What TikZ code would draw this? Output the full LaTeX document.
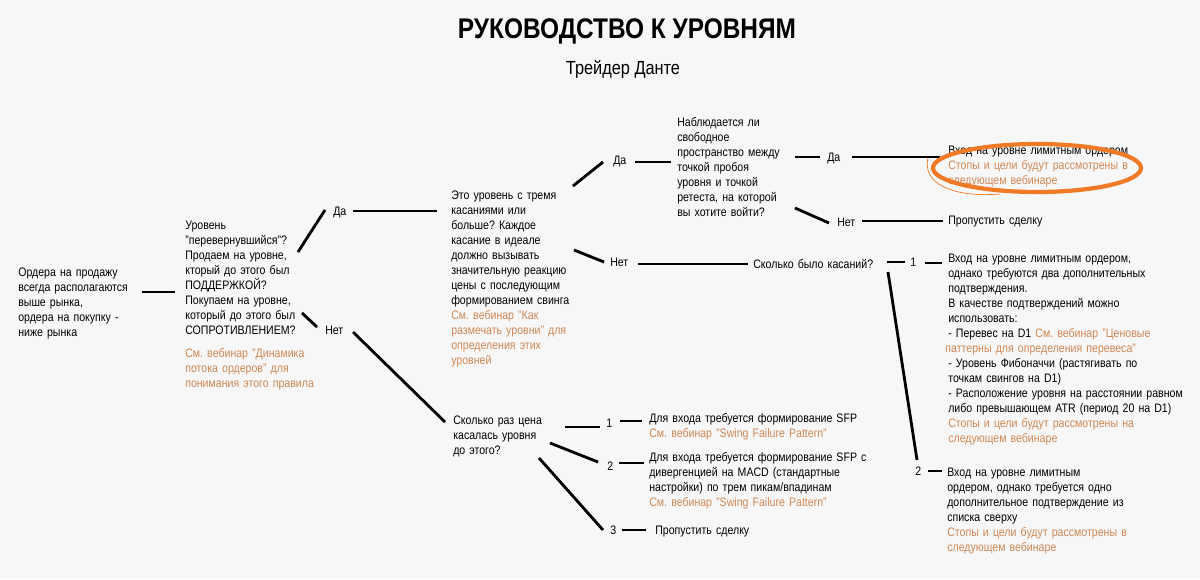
\documentclass[tikz,border=0pt]{standalone}
\usepackage{fontspec}
\setmainfont{Liberation Sans}[FakeStretch=0.86]
\usetikzlibrary{calc}
\definecolor{PaperGrey}{RGB}{247,247,247}
\definecolor{NoteOrange}{RGB}{208,136,84}
\definecolor{MarkOrange}{RGB}{240,122,38}
\newcommand{\webnote}[1]{\textcolor{NoteOrange}{#1}}
\frenchspacing

\begin{document}
\begin{tikzpicture}[
    x=0.025cm, y=-0.025cm,
    font=\fontsize{8.75}{10.67}\selectfont,
    txt/.style={anchor=base west, align=left, inner sep=0pt, text width=6.5cm},
    lbl/.style={anchor=base west, inner sep=0pt},
    link/.style={line width=2pt},
]
\path[use as bounding box, fill=PaperGrey] (0,0) rectangle (1200,579);

% ---- title ----
\node[anchor=base, font=\fontsize{20.2}{24}\selectfont\bfseries] (title) at (627,38) {РУКОВОДСТВО К УРОВНЯМ};
\node[anchor=base, font=\fontsize{13.5}{16}\selectfont] (author) at (623,74) {Трейдер Данте};

% ---- left: start and first question ----
\node[txt] (orders) at (18,276)
    {Ордера на продажу\\всегда располагаются\\выше рынка,\\ордера на покупку -\\ниже рынка};
\node[txt] (flip) at (185,229)
    {Уровень\\"перевернувшийся"?\\Продаем на уровне,\\кторый до этого был\\ПОДДЕРЖКОЙ?\\Покупаем на уровне,\\который до этого был\\СОПРОТИВЛЕНИЕМ?\\[6pt]\webnote{См. вебинар "Динамика}\\\webnote{потока ордеров" для}\\\webnote{понимания этого правила}};
\node[lbl] (yes1) at (333,215) {Да};
\node[lbl] (no1) at (325,334) {Нет};

% ---- upper branch ----
\node[txt] (three) at (451,199)
    {Это уровень с тремя\\касаниями или\\больше? Каждое\\касание в идеале\\должно вызывать\\значительную реакцию\\цены с последующим\\формированием свинга\\\webnote{См. вебинар "Как}\\\webnote{размечать уровни" для}\\\webnote{определения этих}\\\webnote{уровней}};
\node[lbl] (yes2) at (613,164) {Да};
\node[lbl] (no2) at (610,266) {Нет};
\node[txt] (space) at (677,126)
    {Наблюдается ли\\свободное\\пространство между\\точкой пробоя\\уровня и точкой\\ретеста, на которой\\вы хотите войти?};
\node[lbl] (yes3) at (827,161) {Да};
\node[lbl] (no3) at (837,226) {Нет};
\node[txt] (limit) at (948,154)
    {Вход на уровне лимитным ордером\\\webnote{Стопы и цели будут рассмотрены в}\\\webnote{следующем вебинаре}};
\node[txt] (skip1) at (948,224) {Пропустить сделку};
\node[txt] (touch) at (753,268) {Сколько было касаний?};
\node[lbl] (one1) at (910,266) {1};
\node[lbl] (two1) at (915,475) {2};
\node[txt] (twoconf) at (948,262)
    {Вход на уровне лимитным ордером,\\однако требуются два дополнительных\\подтверждения.\\В качестве подтверждений можно\\использовать:\\- Перевес на D1 \webnote{См. вебинар "Ценовые}\\\hspace*{-2pt}\webnote{паттерны для определения перевеса"}\\- Уровень Фибоначчи (растягивать по\\точкам свингов на D1)\\- Расположение уровня на расстоянии равном\\либо превышающем ATR (период 20 на D1)\\\webnote{Стопы и цели будут рассмотрены на}\\\webnote{следующем вебинаре}};
\node[txt] (oneconf) at (947,476)
    {Вход на уровне лимитным\\ордером, однако требуется одно\\дополнительное подтверждение из\\списка сверху\\\webnote{Стопы и цели будут рассмотрены в}\\\webnote{следующем вебинаре}};

% ---- lower branch ----
\node[txt] (count) at (453,424) {Сколько раз цена\\касалась уровня\\до этого?};
\node[lbl] (one2) at (606,427) {1};
\node[lbl] (two2) at (607,470) {2};
\node[lbl] (three2) at (610,534) {3};
\node[txt] (sfp1) at (649,422)
    {Для входа требуется формирование SFP\\\webnote{См. вебинар "Swing Failure Pattern"}};
\node[txt] (sfp2) at (649,461)
    {Для входа требуется формирование SFP с\\дивергенцией на MACD (стандартные\\настройки) по трем пикам/впадинам\\\webnote{См. вебинар "Swing Failure Pattern"}};
\node[txt] (skip2) at (655,534) {Пропустить сделку};

% ---- connectors ----
\foreach \a/\da/\b/\db in {
    orders/{124,16}/flip/{-10,63}, flip/{113,23}/yes1/{-8,-5}, yes1/{20,-4}/three/{-14,12},
    flip/{117,84}/no1/{-8,-7}, no1/{28,-2}/count/{-8,-2},
    three/{122,-13}/yes2/{-10,-2}, yes2/{22,-2}/space/{-6,36},
    space/{118,31}/yes3/{-7,-4}, yes3/{25,-4}/limit/{-8,3},
    space/{118,82}/no3/{-8,-3}, no3/{25,-5}/skip1/{-5,-3},
    three/{123,51}/no2/{-6,-4}, no2/{28,-2}/touch/{-5,-4},
    touch/{134,-6}/one1/{-5,-4}, one1/{15,-3}/twoconf/{-6,1},
    touch/{135,4}/two1/{2,-15}, two1/{13,-4}/oneconf/{-5,-5},
    count/{112,3}/one2/{-6,0}, one2/{14,-6}/sfp1/{-7,-1},
    count/{97,19}/two2/{-9,-8}, two2/{12,-7}/sfp2/{-5,2},
    count/{86,34}/three2/{-7,-4}, three2/{12,-4}/skip2/{-9,-4}}
    \draw[link] ([shift={(\da)}]\a.base west) -- ([shift={(\db)}]\b.base west);

% hand-drawn mark round the first answer
\draw[MarkOrange, line width=3pt] (1037,168) ellipse [x radius=104, y radius=24];
\draw[MarkOrange, line width=0.5pt] (928,158) .. controls (922,182) and (950,198) .. (1000,194);

\end{tikzpicture}
\end{document}
